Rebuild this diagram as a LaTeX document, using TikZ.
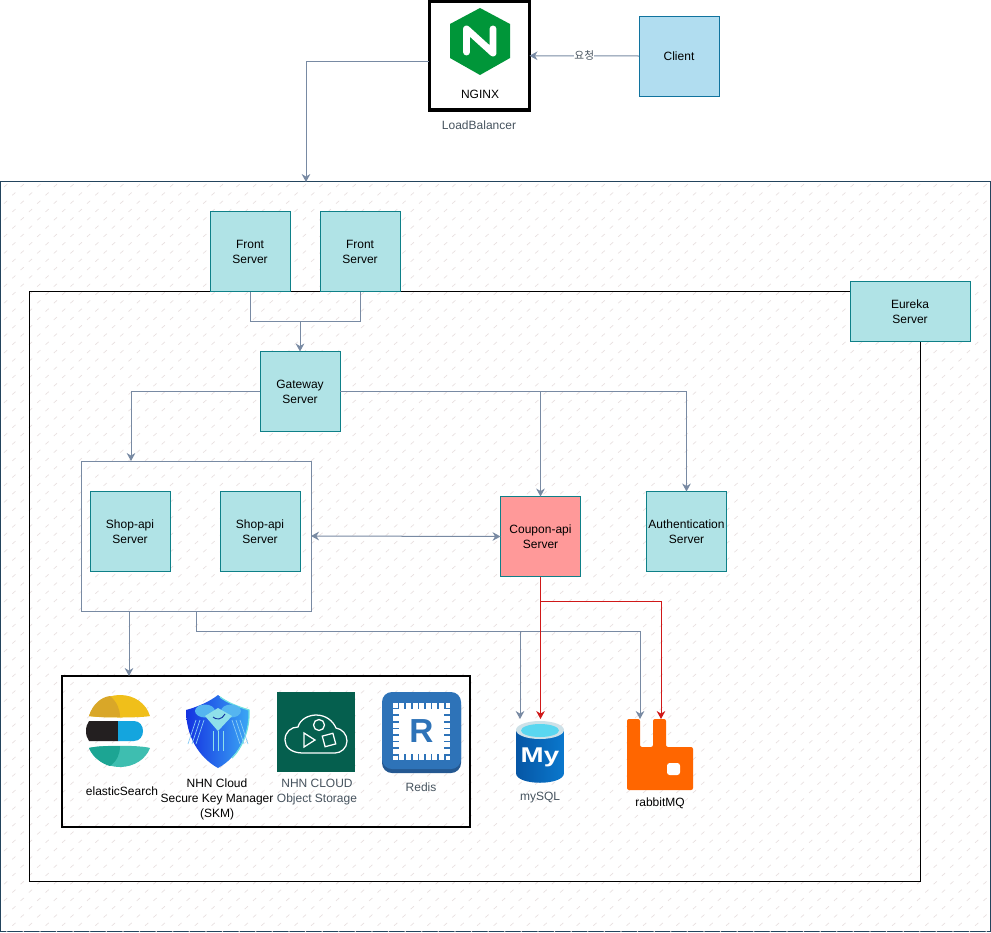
\documentclass[tikz,border=0pt]{standalone}
\usepackage{fontspec}
\setmainfont{Liberation Sans}
\newfontfamily\krfont{Noto Sans CJK KR}
\usepackage{xcolor}
\usetikzlibrary{arrows.meta}
\definecolor{tealfill}{HTML}{B0E3E6}
\definecolor{tealline}{HTML}{0E8088}
\definecolor{bluefill}{HTML}{B1DDF0}
\definecolor{blueline}{HTML}{10739E}
\definecolor{redfill}{HTML}{FF9999}
\definecolor{redflowline}{HTML}{D01818}
\definecolor{slateline}{HTML}{788AA3}
\definecolor{zoneline}{HTML}{23445D}
\definecolor{greytext}{HTML}{46535E}
\definecolor{hatchline}{HTML}{E8E0E0}
\definecolor{redisblue}{HTML}{2E73B8}
\definecolor{keylight}{HTML}{8FE0EA}
\definecolor{keylobe}{HTML}{55B5F0}
\tikzset{>={Stealth[width=6.5pt,length=6pt]}}
\tikzset{
  labeltext/.style={font=\fontsize{9}{11.25}\selectfont,align=center,inner sep=0pt},
  serverbox/.style={labeltext,draw=tealline,fill=tealfill,line width=0.6pt,minimum width=60pt,minimum height=60pt,outer sep=0pt},
  framebox/.style={draw,inner sep=0pt,outer sep=0pt},
  slateflow/.style={draw=slateline,line width=0.75pt,->},
  redflow/.style={draw=redflowline,line width=0.75pt,->},
}

\begin{document}
\begin{tikzpicture}[x=0.75pt,y=-0.75pt]

  \useasboundingbox (0,0) rectangle (991,932);

  % hatched zone
  \node[framebox,draw=zoneline,fill=white,line width=0.75pt,minimum width=742.5pt,minimum height=562.5pt] (zone) at (495,556.5) {};
  \begin{scope}
    \clip (1,183) rectangle (990,931);
    \draw[line width=0.5pt,hatchline]
      \foreach \row in {0,...,91} { \foreach \col in {0,...,60} {
        ({\col*16.6+mod(\row,2)*8.3+4},{187+\row*8.3}) -- ++(3.2,-2.8)
      } };
  \end{scope}

  \node[framebox,line width=0.75pt,minimum width=668.25pt,minimum height=442.5pt] (backend) at (475,586.5) {};

  % top row
  \node[framebox,line width=2.4pt,fill=white,minimum width=75pt,minimum height=81.5pt] (nginx) at (479.5,55.75) {};
  \node[labeltext,draw=blueline,fill=bluefill,line width=0.6pt,minimum width=60pt,minimum height=60pt,outer sep=0pt] (client) at (679,56) {Client};
  \fill[color={rgb,255:red,0;green,150;blue,57}] (480,8) -- (510,24) -- (510,58) -- (480,75) -- (450,58) -- (450,24) -- cycle;
  \draw[white,line width=5.2pt,line cap=round,line join=round] (466.5,52) -- (466.5,29) -- (493,53) -- (493,29);
  \node[labeltext] (nginxlabel) at (480,94) {NGINX};
  \node[labeltext,text=greytext] (lblabel) at (479,125) {LoadBalancer};

  % servers
  \node[serverbox] (frontone) at (250,251.5) {Front\\Server};
  \node[serverbox] (fronttwo) at (360,251.5) {Front\\Server};
  \node[serverbox,minimum width=90pt,minimum height=45pt] (eureka) at (910,311.5) {Eureka\\Server};
  \node[serverbox] (gateway) at (300,391.5) {Gateway\\Server};
  \node[framebox,draw=slateline,line width=0.75pt,minimum width=172.5pt,minimum height=112.5pt] (shopgroup) at (196,536) {};
  \node[serverbox] (shopone) at (130,531.5) {Shop-api\\Server};
  \node[serverbox] (shoptwo) at (260,531.5) {Shop-api\\Server};
  \node[serverbox,fill=redfill] (coupon) at (540.5,536.5) {Coupon-api\\Server};
  \node[serverbox] (auth) at (686.5,531.5) {Authentication\\Server};

  % storage box
  \node[framebox,line width=1.9pt,minimum width=306pt,minimum height=113pt] (storage) at (266,751.5) {};

  % elasticSearch
  \fill[color={rgb,255:red,240;green,191;blue,26}] (89,716) .. controls (93,703) and (106,695) .. (120,695) .. controls (134,695) and (146,703) .. (150,716) .. controls (140,718) and (100,718) .. (89,716) -- cycle;
  \fill[color={rgb,255:red,217;green,167;blue,40}] (89,716) .. controls (93,703) and (102,697) .. (110,696) .. controls (117,702) and (120,709) .. (120,717) .. controls (108,717.5) and (97,717) .. (89,716) -- cycle;
  \fill[color={rgb,255:red,35;green,31;blue,32}] (86,731) .. controls (86,727) and (87,724) .. (89,721) -- (118,721) -- (118,741) -- (89,741) .. controls (87,738) and (86,735) .. (86,731) -- cycle;
  \fill[color={rgb,255:red,20;green,165;blue,222}] (118,721) -- (134,721) .. controls (140,721) and (143,726) .. (143,731) .. controls (143,736) and (140,741) .. (134,741) -- (118,741) -- cycle;
  \fill[color={rgb,255:red,62;green,190;blue,176}] (89,748) .. controls (100,745) and (140,745) .. (150,748) .. controls (146,759) and (134,767) .. (120,767) .. controls (106,767) and (93,759) .. (89,748) -- cycle;
  \fill[color={rgb,255:red,28;green,165;blue,147}] (89,748) .. controls (97,746) and (108,746) .. (120,746) .. controls (120,754) and (117,761) .. (110,766) .. controls (102,764) and (93,757) .. (89,748) -- cycle;
  \node[labeltext] (elasticlabel) at (122,791) {elasticSearch};

  % key manager
  \shade[left color={rgb,255:red,20;green,50;blue,225},right color={rgb,255:red,60;green,170;blue,245}]
    (218,695) .. controls (226,702) and (238,707) .. (249,710) .. controls (250,735) and (238,757) .. (218,768) .. controls (198,757) and (186,735) .. (186,710) .. controls (197,707) and (209,702) .. (218,695) -- cycle;
  \draw[color={rgb,255:red,110;green,225;blue,225},line width=0.9pt] (220,697) .. controls (228,703) and (239,707) .. (249,710) .. controls (250,730) and (242,748) .. (232,758);
  \fill[keylobe] (205,711) ellipse (10 and 6.5);
  \fill[keylobe] (231,711) ellipse (10 and 6.5);
  \fill[keylight] (205,716) -- (218,708) -- (232,716) -- (218,731) -- cycle;
  \foreach \keyx in {213,218,223} {
    \draw[keylight,line width=0.7pt] (\keyx,731) -- (\keyx,751);
  }
  \foreach \keyshift in {0,4,8} {
    \draw[keylobe!70!white,line width=0.55pt] ({204-\keyshift},720) -- ({196-\keyshift},744);
    \draw[keylobe!70!white,line width=0.55pt] ({232+\keyshift},720) -- ({240+\keyshift},744);
  }
  \draw[color={rgb,255:red,20;green,50;blue,160},line width=0.7pt] (213,717) .. controls (216,720) and (222,720) .. (225,714);
  \node[labeltext] (skmlabel) at (217,799.5) {NHN Cloud\\Secure Key Manager\\(SKM)};

  % object storage
  \fill[color={rgb,255:red,5;green,95;blue,78}] (277,692) rectangle (355,772);
  \draw[white,line width=0.95pt] (303,753) .. controls (291,753) and (285,747) .. (285,740) .. controls (285,732) and (291,727) .. (298,727) .. controls (300,719) and (309,715) .. (316,715) .. controls (326,715) and (333,721) .. (336,728) .. controls (342,729) and (347,734) .. (347,741) .. controls (347,748) and (341,753) .. (335,753) -- cycle;
  \draw[white,line width=0.95pt] (319,725) circle (5.5);
  \draw[white,line width=0.95pt] (304,733) -- (304,747) -- (315,740) -- cycle;
  \draw[white,line width=0.95pt,rotate around={15:(329,740)}] (323.5,734.5) rectangle (334.5,745.5);
  \node[labeltext,text=greytext] (objectlabel) at (317,792.5) {NHN CLOUD\\Object Storage};

  % redis
  \fill[color={rgb,255:red,36;green,88;blue,145},rounded corners=7.5pt] (382,695) rectangle (461,773);
  \fill[redisblue,rounded corners=7.5pt] (382,692) rectangle (461,769);
  \fill[white] (393,703) rectangle (450,760);
  \foreach \pin in {0,...,7} {
    \draw[redisblue,line width=1.2pt] ({398.5+\pin*6.6},702) -- ++(0,7);
    \draw[redisblue,line width=1.2pt] ({398.5+\pin*6.6},761) -- ++(0,-7);
    \draw[redisblue,line width=1.2pt] (392,{708.5+\pin*6.6}) -- ++(7,0);
    \draw[redisblue,line width=1.2pt] (451,{708.5+\pin*6.6}) -- ++(-7,0);
  }
  \node[labeltext,font=\fontsize{25}{25}\selectfont\bfseries,text=redisblue] (redisicon) at (421.5,731.5) {R};
  \node[labeltext,text=greytext] (redislabel) at (421,787) {Redis};

  % mySQL
  \shade[left color={rgb,255:red,6;green,86;blue,165},right color={rgb,255:red,10;green,120;blue,205}]
    (516,730) -- (516,773) .. controls (516,786) and (564,786) .. (564,773) -- (564,730) -- cycle;
  \fill[color={rgb,255:red,205;green,225;blue,232}] (540,730) ellipse (24 and 9);
  \fill[color={rgb,255:red,90;green,215;blue,240}] (540,730.5) ellipse (19 and 6.5);
  \node[labeltext,font=\fontsize{16}{16}\selectfont\bfseries,text=white,xscale=1.3] (mysqlicon) at (540,757) {My};
  \node[labeltext,text=greytext] (mysqllabel) at (540,798) {mySQL};

  % rabbitMQ
  \fill[color={rgb,255:red,255;green,102;blue,0},rounded corners=1.5pt] (627,719) -- (640,719) -- (640,747) -- (653,747) -- (653,719) -- (666,719) -- (666,747) -- (693,747) -- (693,790) -- (627,790) -- cycle;
  \fill[white,rounded corners=2pt] (667,763) rectangle (680,775);
  \node[labeltext] (rabbitlabel) at (660,803.5) {rabbitMQ};

  % free ends
  \coordinate (nginxport) at (429,61);
  \coordinate (zonein) at (306,182);
  \coordinate (frontjoin) at (300,321);
  \coordinate (shopin) at (131,461);
  \coordinate (shopdown) at (129,611);
  \coordinate (storagein) at (129,676);
  \coordinate (shopout) at (196,611);
  \coordinate (shopbus) at (196,631);
  \coordinate (mysqlin) at (520,719);
  \coordinate (rabbitin) at (640,719);
  \coordinate (couponsql) at (540.5,719);
  \coordinate (couponbus) at (540.5,601);
  \coordinate (couponmq) at (661,719);

  % connectors
  \draw[slateflow] (client.west) -- node[labeltext,fill=white,text=greytext,font=\fontsize{8}{8}\krfont] (requestlabel) {요청} (nginx.east);
  \draw[slateflow] (nginxport) -| (zonein);
  \draw[slateflow,-] (frontone.south) |- (frontjoin);
  \draw[slateflow,-] (fronttwo.south) |- (frontjoin);
  \draw[slateflow] (frontjoin) -- (gateway.north);
  \draw[slateflow] (gateway.west) -| (shopin);
  \draw[slateflow] (gateway.east) -| (coupon.north);
  \draw[slateflow] (gateway.east) -| (auth.north);
  \draw[slateflow,<->] (shopgroup.east) -- (coupon.west);
  \draw[slateflow] (shopdown) -- (storagein);
  \draw[slateflow] (shopout) |- (mysqlin |- shopbus) -- (mysqlin);
  \draw[slateflow] (mysqlin |- shopbus) -| (rabbitin);
  \draw[redflow] (coupon.south) -- (couponsql);
  \draw[redflow] (couponbus) -| (couponmq);

\end{tikzpicture}
\end{document}
